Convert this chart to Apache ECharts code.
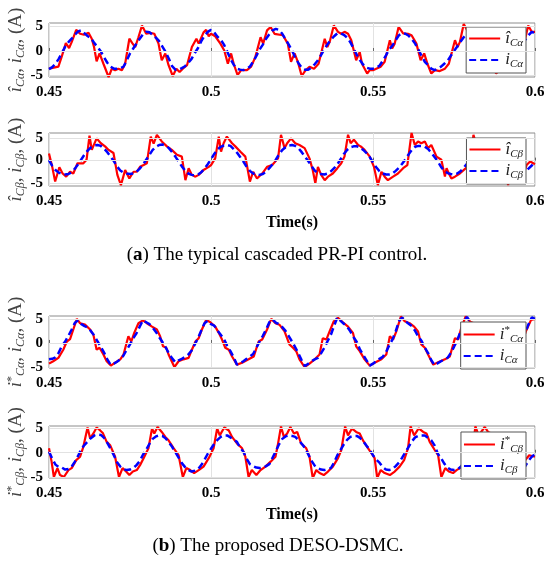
<!DOCTYPE html>
<html><head><meta charset="utf-8">
<script src="https://cdn.jsdelivr.net/npm/echarts@6/dist/echarts.min.js"></script>
<style>html,body{margin:0;padding:0;background:#fff}#c{width:550px;height:562px}</style>
</head><body><div id="c"></div>
<script>
// ---- sampling of the measured (blue) currents ----
const T0 = 0.45, DT = 0.001;
const xTicks = [0.45, 0.5, 0.55, 0.6];
const yTicks = [-5, 0, 5];

// (a) PR-PI, alpha: estimated current (red) vertices
const p1HatT = [0.4500,0.4529,0.4539,0.4552,0.4562,0.4570,0.4584,0.4596,0.4608,0.4622,0.4632,0.4639,0.4647,0.4656,0.4668,0.4684,0.4694,0.4704,0.4714,0.4725,0.4735,0.4748,0.4757,0.4766,0.4776,0.4787,0.4800,0.4812,0.4825,0.4838,0.4848,0.4859,0.4869,0.4882,0.4893,0.4903,0.4913,0.4926,0.4941,0.4955,0.4962,0.4977,0.4985,0.4993,0.5000,0.5013,0.5029,0.5041,0.5052,0.5062,0.5070,0.5082,0.5093,0.5111,0.5124,0.5137,0.5153,0.5161,0.5173,0.5184,0.5196,0.5222,0.5237,0.5247,0.5258,0.5268,0.5280,0.5291,0.5304,0.5318,0.5332,0.5351,0.5359,0.5366,0.5379,0.5392,0.5402,0.5412,0.5423,0.5433,0.5448,0.5459,0.5466,0.5482,0.5490,0.5500,0.5510,0.5524,0.5536,0.5552,0.5559,0.5567,0.5579,0.5593,0.5608,0.5619,0.5634,0.5647,0.5658,0.5668,0.5680,0.5691,0.5706,0.5722,0.5734,0.5753,0.5761,0.5768,0.5780,0.5793,0.5803,0.5815,0.5825,0.5835,0.5850,0.5860,0.5867,0.5880,0.5891,0.5905,0.5920,0.5935,0.5952,0.5960,0.5967,0.5979,0.5990,0.6000];
const p1HatV = [-3.6,-3.2,-1.2,1.6,0.6,1.8,4.3,3.5,3.3,3.7,2.5,0.8,-2.1,-0.5,-2.6,-5.3,-3.6,-3.9,-3.6,-3.9,-2.6,2.5,1.6,0.8,2.8,5.2,3.5,3.7,3.5,1.5,-1.9,-0.5,-2.9,-5.1,-3.6,-4.3,-3.6,-2.9,0.8,2.5,1.5,3.8,4.3,3.0,3.5,3.0,1.5,0.1,-2.6,-0.5,-2.6,-4.9,-3.9,-3.9,-3.2,-1.2,2.8,1.5,4.2,4.9,3.5,3.2,1.5,-2.2,-0.5,-2.2,-5.1,-4.0,-3.2,-3.6,-2.6,2.5,0.8,1.8,5.2,3.9,3.5,3.9,3.5,2.2,-1.9,-0.2,-2.6,-4.6,-3.9,-3.9,-3.6,-3.2,-2.2,2.2,0.5,1.5,4.9,3.6,3.5,3.2,1.5,-1.9,-0.5,-2.6,-4.6,-3.9,-4.1,-3.6,-2.6,2.2,0.8,1.8,5.5,3.9,3.5,3.8,3.4,2.2,-1.9,-0.4,-2.6,-4.6,-3.9,-3.9,-3.4,-2.4,2.3,0.8,1.6,5.2,3.9,3.9];
const p1Meas = [-3.7,-3.3,-2.6,-1.6,-0.4,0.9,1.8,2.5,3.3,4.0,4.2,3.6,3.0,2.6,1.6,0.8,-0.1,-1.3,-2.4,-3.2,-3.6,
 -3.6,-3.5,-3.2,-1.9,-0.5,0.5,1.5,2.5,3.4,3.9,3.8,3.3,2.7,2.0,0.9,-0.2,-1.6,-3.1,-3.8,-3.8,
 -3.5,-3.1,-2.4,-1.6,-0.4,0.6,2.0,3.1,3.9,4.3,3.8,2.9,2.3,1.3,-0.1,-1.6,-2.8,-3.6,-3.8,-3.9,
 -3.6,-3.2,-2.2,-1.0,0.3,1.3,2.5,3.4,4.2,4.5,4.3,3.5,2.4,1.3,0.1,-1.3,-2.5,-3.4,-3.8,-3.8,
 -3.4,-2.7,-1.9,-0.8,0.4,1.4,2.3,3.0,3.6,3.6,3.3,2.7,1.8,0.5,-0.8,-1.9,-2.8,-3.4,-3.6,-3.6,
 -3.4,-3.0,-2.0,-0.9,0.3,1.1,2.2,3.2,3.6,3.5,3.1,2.4,1.5,0.3,-1.0,-2.2,-2.9,-3.6,-3.9,-3.6,
 -3.2,-2.6,-2.0,-1.0,0.0,0.9,1.9,2.8,3.5,3.9,3.7,3.1,2.3,1.3,0.1,-1.2,-2.4,-3.3,-3.8,-3.8,
 -3.4,-2.8,-2.0,-0.9,0.3,1.3,2.3,3.2,3.9,3.6];

// (a) PR-PI, beta
const p2HatT = [0.4500,0.4510,0.4519,0.4532,0.4542,0.4553,0.4565,0.4575,0.4588,0.4606,0.4616,0.4625,0.4632,0.4647,0.4660,0.4673,0.4684,0.4699,0.4711,0.4722,0.4735,0.4748,0.4761,0.4771,0.4781,0.4792,0.4802,0.4814,0.4823,0.4833,0.4848,0.4864,0.4879,0.4895,0.4910,0.4921,0.4931,0.4941,0.4952,0.4962,0.4977,0.4993,0.5000,0.5013,0.5024,0.5031,0.5039,0.5049,0.5065,0.5075,0.5091,0.5106,0.5120,0.5130,0.5142,0.5158,0.5173,0.5189,0.5207,0.5216,0.5227,0.5235,0.5247,0.5260,0.5273,0.5289,0.5304,0.5314,0.5322,0.5330,0.5340,0.5351,0.5361,0.5376,0.5390,0.5402,0.5412,0.5423,0.5431,0.5441,0.5454,0.5462,0.5474,0.5490,0.5503,0.5515,0.5526,0.5536,0.5546,0.5562,0.5577,0.5593,0.5606,0.5619,0.5629,0.5639,0.5649,0.5660,0.5670,0.5680,0.5696,0.5711,0.5722,0.5727,0.5734,0.5742,0.5753,0.5768,0.5785,0.5800,0.5810,0.5818,0.5830,0.5845,0.5860,0.5875,0.5890,0.5905,0.5917,0.5925,0.5935,0.5953,0.5965,0.5974,0.5985,0.6000];
const p2HatV = [1.6,-1.4,-4.7,-1.5,-2.9,-3.6,-2.5,-2.9,-0.6,-0.6,0.2,5.6,2.4,5.0,3.9,3.2,2.4,1.7,-3.2,-5.5,-2.1,-4.0,-2.5,-2.5,-1.4,-1.0,-0.6,5.4,3.8,5.8,4.3,3.2,2.4,1.3,0.9,-4.4,-1.7,-3.2,-3.6,-3.2,-2.1,-1.4,-1.0,0.5,5.4,2.0,3.9,5.4,3.9,3.2,2.0,0.9,-4.7,-2.5,-4.0,-2.9,-1.4,-1.0,0.5,5.8,2.8,3.9,5.0,3.9,3.5,2.8,0.5,-2.1,-5.1,-1.4,-3.2,-4.4,-3.6,-2.9,-1.7,-0.6,0.9,5.8,3.9,4.7,3.5,3.2,2.4,0.9,-1.4,-5.5,-2.5,-3.6,-4.4,-3.6,-2.9,-1.7,-1.0,6.2,3.5,4.3,3.9,4.3,2.8,3.5,0.9,0.2,-3.6,-1.7,-2.9,-4.0,-3.6,-2.9,-1.8,-0.8,5.8,3.8,4.5,3.6,3.0,2.2,0.9,-1.5,-5.5,-2.2,-3.4,-4.7,-3.0,-1.0,-0.2,-0.8];
const p2Meas = [0.1,-1.2,-2.1,-2.7,-3.0,-3.1,-3.0,-2.6,-1.8,-0.8,0.3,1.4,2.3,3.0,3.4,3.5,3.3,2.7,1.9,0.9,-0.1,
 -1.3,-2.2,-2.7,-2.9,-3.0,-2.9,-2.5,-1.8,-0.9,0.2,1.3,2.4,3.1,3.5,3.6,3.4,2.8,1.9,0.9,-0.2,
 -1.3,-2.2,-2.9,-3.2,-3.3,-3.1,-2.6,-1.8,-0.8,0.3,1.5,2.5,3.1,3.4,3.5,3.3,2.6,1.8,0.8,-0.2,
 -1.4,-2.3,-2.9,-3.1,-3.2,-3.0,-2.5,-1.7,-0.8,0.2,1.4,2.4,3.0,3.4,3.5,3.3,2.8,1.9,0.9,-0.1,
 -1.2,-2.2,-2.8,-3.0,-3.1,-2.9,-2.4,-1.7,-0.8,0.3,1.5,2.4,3.0,3.2,3.2,3.0,2.4,1.7,0.8,-0.4,
 -1.5,-2.4,-2.9,-3.1,-3.1,-2.9,-2.3,-1.6,-0.7,0.3,1.4,2.4,3.1,3.3,3.3,3.1,2.6,1.8,0.8,-0.2,
 -1.4,-2.3,-2.8,-3.0,-3.1,-2.9,-2.4,-1.6,-0.7,0.3,1.4,2.4,3.1,3.4,3.5,3.2,2.6,1.8,0.8,-0.2,
 -1.3,-2.2,-2.8,-3.1,-3.1,-2.9,-2.5,-1.8,-1.1,-0.4];

// (b) DESO-DSMC, alpha: reference current (red) vertices
const p3RefT = [0.4500,0.4513,0.4529,0.4544,0.4555,0.4565,0.4575,0.4586,0.4596,0.4611,0.4627,0.4637,0.4647,0.4656,0.4668,0.4678,0.4691,0.4704,0.4720,0.4730,0.4745,0.4754,0.4763,0.4776,0.4790,0.4802,0.4818,0.4833,0.4843,0.4852,0.4862,0.4869,0.4887,0.4900,0.4915,0.4931,0.4941,0.4952,0.4962,0.4972,0.4985,0.4998,0.5013,0.5024,0.5034,0.5044,0.5055,0.5065,0.5080,0.5096,0.5116,0.5132,0.5147,0.5158,0.5173,0.5186,0.5199,0.5211,0.5227,0.5242,0.5253,0.5263,0.5273,0.5289,0.5304,0.5320,0.5335,0.5345,0.5356,0.5366,0.5379,0.5392,0.5407,0.5423,0.5438,0.5448,0.5459,0.5474,0.5490,0.5505,0.5526,0.5541,0.5552,0.5562,0.5572,0.5586,0.5598,0.5613,0.5627,0.5639,0.5649,0.5660,0.5670,0.5686,0.5701,0.5722,0.5737,0.5753,0.5763,0.5771,0.5786,0.5800,0.5815,0.5830,0.5843,0.5853,0.5863,0.5874,0.5888,0.5903,0.5923,0.5938,0.5953,0.5963,0.5973,0.5988,0.6000];
const p3RefV = [-4.3,-3.8,-3.1,-1.4,0.3,0.8,2.8,5.0,4.1,3.8,2.8,1.7,-1.4,-1.0,-2.4,-3.8,-4.7,-4.1,-3.4,-2.4,1.4,0.3,2.1,4.1,4.7,4.1,3.4,2.8,1.4,-0.7,-1.0,-2.4,-5.0,-3.8,-3.4,-3.1,-1.4,0.3,1.0,2.8,4.8,4.3,3.4,2.1,0.7,-1.0,-1.4,-2.8,-4.5,-4.1,-3.4,-2.8,0.3,0.7,2.8,5.0,4.1,3.8,2.4,-0.3,-1.0,-1.7,-3.4,-5.0,-4.3,-3.4,-2.4,1.0,0.7,2.4,4.5,5.2,4.3,3.4,2.1,-0.7,-1.7,-3.4,-4.7,-4.1,-3.4,-2.4,1.4,0.7,2.4,5.5,4.5,4.1,3.4,2.4,-0.3,-1.0,-2.4,-4.5,-4.0,-3.4,-2.8,1.0,0.7,2.8,5.5,4.4,4.0,3.3,2.2,-0.4,-1.2,-2.4,-4.9,-4.1,-3.4,-2.6,1.2,0.7,2.6,4.8,5.0];
const p3Meas = [-3.4,-3.3,-3.0,-2.0,-0.6,0.3,1.5,2.8,4.2,4.7,3.9,3.5,3.2,2.4,1.5,0.3,-0.8,-2.0,-3.4,-4.5,-4.3,
 -3.9,-3.4,-2.6,-1.4,-0.3,1.0,2.0,3.4,4.7,4.3,3.9,3.2,2.3,1.2,0.2,-0.9,-2.2,-3.2,-4.0,-3.6,
 -3.3,-2.9,-2.4,-1.6,-0.3,1.0,2.6,4.1,4.6,3.9,3.6,2.6,1.7,0.8,-0.6,-1.7,-3.0,-4.5,-4.2,-3.8,
 -3.3,-2.8,-2.3,-1.0,0.3,1.5,2.8,4.3,4.9,4.2,3.9,3.3,2.5,1.4,0.3,-0.9,-2.2,-3.6,-4.8,-4.3,
 -3.8,-3.4,-3.1,-2.1,-1.0,0.4,1.7,3.6,5.3,4.6,4.0,3.4,2.4,1.2,0.2,-1.4,-2.5,-3.6,-4.7,-4.3,
 -3.8,-3.3,-2.9,-1.9,-0.5,0.7,2.4,4.5,5.3,4.5,4.0,3.5,2.5,1.3,0.4,-1.0,-2.1,-3.6,-4.6,-4.2,
 -3.8,-3.4,-3.1,-2.1,-0.8,0.6,2.3,4.4,5.4,4.4,3.9,3.4,2.5,1.3,0.2,-1.1,-2.4,-3.8,-4.9,-4.3,
 -3.8,-3.4,-2.9,-2.0,-0.7,0.7,2.1,3.9,5.3,5.0];

// (b) DESO-DSMC, beta
const p4RefT = [0.4500,0.4508,0.4515,0.4526,0.4534,0.4546,0.4560,0.4570,0.4584,0.4596,0.4606,0.4619,0.4627,0.4637,0.4647,0.4658,0.4666,0.4678,0.4689,0.4704,0.4716,0.4727,0.4738,0.4748,0.4759,0.4771,0.4781,0.4792,0.4807,0.4818,0.4825,0.4835,0.4848,0.4859,0.4869,0.4885,0.4900,0.4913,0.4924,0.4936,0.4948,0.4962,0.4977,0.4993,0.5008,0.5019,0.5027,0.5041,0.5055,0.5065,0.5080,0.5096,0.5106,0.5116,0.5126,0.5140,0.5153,0.5168,0.5184,0.5199,0.5206,0.5216,0.5225,0.5235,0.5245,0.5256,0.5266,0.5278,0.5294,0.5304,0.5314,0.5325,0.5335,0.5348,0.5361,0.5376,0.5392,0.5402,0.5414,0.5423,0.5435,0.5448,0.5459,0.5469,0.5485,0.5495,0.5505,0.5513,0.5524,0.5536,0.5552,0.5567,0.5582,0.5596,0.5608,0.5616,0.5627,0.5641,0.5655,0.5665,0.5675,0.5691,0.5701,0.5711,0.5723,0.5734,0.5747,0.5758,0.5768,0.5782,0.5796,0.5808,0.5816,0.5826,0.5845,0.5855,0.5865,0.5875,0.5889,0.5899,0.5913,0.5925,0.5935,0.5948,0.5960,0.5970,0.5982,0.6000];
const p4RefV = [0.9,-1.8,-4.9,-3.1,-4.5,-4.9,-3.5,-3.1,-1.5,-0.8,1.2,5.1,2.9,3.9,5.1,4.5,4.0,2.2,1.5,-0.8,-4.9,-3.1,-3.8,-4.5,-3.8,-3.5,-2.5,-1.1,0.9,4.9,3.9,5.2,4.2,3.2,2.5,0.9,-0.5,-4.9,-3.1,-3.5,-4.1,-3.5,-2.8,-1.1,0.9,4.9,3.5,5.1,4.5,3.2,1.9,0.9,-0.8,-4.9,-3.5,-4.5,-3.5,-2.8,-1.8,-0.8,1.5,5.3,3.2,3.9,5.2,3.9,4.2,1.9,0.9,-0.8,-5.1,-3.5,-4.1,-4.5,-3.8,-2.8,-1.1,0.5,5.3,3.5,4.9,4.2,3.9,2.5,0.9,-0.1,-1.1,-5.1,-3.5,-4.1,-4.5,-3.8,-2.8,-1.5,0.9,5.3,3.5,4.9,4.2,3.9,2.2,0.5,-0.5,-4.9,-3.1,-3.8,-4.1,-3.5,-3.1,-2.4,-1.5,0.9,5.3,3.5,5.2,4.2,3.9,2.2,0.5,-0.5,-4.9,-3.1,-3.8,-5.1,-3.5,-1.5,-0.5,-0.8];
const p4Meas = [0.2,-1.2,-2.4,-2.9,-3.0,-3.4,-3.3,-2.8,-1.8,-0.6,0.8,1.6,2.3,3.0,3.5,3.7,3.6,3.0,2.0,0.8,-0.5,
 -1.9,-2.8,-3.3,-3.5,-3.4,-3.1,-2.5,-1.7,-0.4,0.6,1.8,2.8,3.3,3.5,3.4,2.9,2.1,1.2,0.1,-1.0,
 -2.1,-2.9,-3.5,-3.8,-3.6,-3.3,-2.5,-1.4,-0.2,0.8,1.8,2.6,3.2,3.5,3.5,3.1,2.6,2.2,1.0,0.2,
 -1.2,-2.3,-2.7,-3.0,-3.1,-3.0,-2.7,-2.3,-1.0,0.3,1.7,2.8,3.3,3.5,3.4,3.2,2.6,1.8,1.0,-0.3,
 -1.6,-2.6,-3.1,-3.4,-3.5,-3.3,-3.1,-2.0,-0.5,0.6,1.7,2.6,3.2,3.4,3.4,3.0,2.3,1.4,0.6,-0.5,
 -1.4,-2.0,-2.9,-3.4,-3.5,-3.3,-2.7,-2.0,-1.0,0.1,1.2,2.3,3.1,3.4,3.5,3.5,3.0,2.5,1.5,-0.2,
 -1.1,-2.2,-3.0,-3.4,-3.5,-3.4,-2.9,-2.1,-1.0,0.2,1.4,2.4,3.1,3.4,3.5,3.3,2.7,1.8,0.8,-0.3,
 -1.5,-2.5,-3.1,-3.4,-3.5,-3.3,-2.7,-1.6,-0.8,-0.3];

const redSets = [[p1HatT,p1HatV],[p2HatT,p2HatV],[p3RefT,p3RefV],[p4RefT,p4RefV]];
const blueSets = [p1Meas, p2Meas, p3Meas, p4Meas];
const redNames = ['hatA','hatB','refA','refB'];
const blueNames = ['measA','measB','measA2','measB2'];
const legendText = {
  hatA:'{i|î}{s|Cα}', measA:'{i|i}{s|Cα}',
  hatB:'{i|î}{s|Cβ}', measB:'{i|i}{s|Cβ}',
  refA:'{i|i}{p|*}{s|Cα}', measA2:'{i|i}{s|Cα}',
  refB:'{i|i}{p|*}{s|Cβ}', measB2:'{i|i}{s|Cβ}'
};
const yNames = [
  '{i|î}{s|Cα}{n|, }{i|i}{s|Cα}{n|, (A)}',
  '{i|î}{s|Cβ}{n|, }{i|i}{s|Cβ}{n|, (A)}',
  '{i|i}{p|*}{s|Cα}{n|, }{i|i}{s|Cα}{n|, (A)}',
  '{i|i}{p|*}{s|Cβ}{n|, }{i|i}{s|Cβ}{n|, (A)}'
];

const serif = 'Liberation Serif';
const gridPos = [{top:23,height:54},{top:133,height:53},{top:316,height:52},{top:426,height:52}];
const yRanges = [[-5.3,5.7],[-5.7,6.2],[-5.2,5.6],[-5.1,5.4]];
const legendTops = [27,138,322,432];

function richSet(color, big, small){
  return {
    i:{fontFamily:serif,fontStyle:'italic',fontSize:big,color:color},
    s:{fontFamily:serif,fontStyle:'italic',fontSize:small,color:color,padding:[Math.round(small*0.8),0,0,0]},
    p:{fontFamily:serif,fontSize:small,color:color,padding:[0,0,Math.round(small*0.7),0]},
    n:{fontFamily:serif,fontSize:big,color:color}
  };
}

const grid = gridPos.map(p => ({left:49, right:15, top:p.top, height:p.height, show:true,
  borderColor:'#8c8c8c', borderWidth:1, containLabel:false, outerBoundsMode:'none'}));
const xAxis = gridPos.map((p,g) => ({
  gridIndex:g, type:'value', min:0.45, max:0.6, interval:0.05,
  axisLine:{show:false},
  axisTick:{show:true, inside:true, length:3, lineStyle:{color:'#666'}},
  axisLabel:{fontFamily:serif, fontWeight:'bold', fontSize:15, color:'#000', margin:8, showMinLabel:true, showMaxLabel:true,
    formatter: v => String(Math.round(v*100)/100)},
  splitLine:{show:true, lineStyle:{color:'#e2e2e2', width:1}},
  name: (g % 2 === 1) ? 'Time(s)' : '', nameLocation:'middle', nameGap:29, nameMoveOverlap:false,
  nameTextStyle:{fontFamily:serif, fontWeight:'bold', fontSize:16, color:'#000'}
}));
const yAxis = gridPos.map((p,g) => ({
  gridIndex:g, type:'value', min:yRanges[g][0], max:yRanges[g][1],
  axisLine:{show:false}, splitLine:{show:false},
  axisTick:{show:true, inside:true, length:3, customValues:yTicks, lineStyle:{color:'#666'}},
  axisLabel:{customValues:yTicks, fontFamily:serif, fontWeight:'bold', fontSize:15, color:'#000', margin:6},
  name: yNames[g], nameLocation:'middle', nameRotate:90, nameGap:22, nameMoveOverlap:false,
  nameTextStyle:{rich: richSet('#444', 19, 12)}
}));

const series = [];
for (let g = 0; g < 4; g++) {
  series.push({
    type:'line', name:'grid'+g, xAxisIndex:g, yAxisIndex:g, data:[], z:1, silent:true,
    markLine:{silent:true, symbol:'none', label:{show:false}, animation:false,
      lineStyle:{color:'#e2e2e2', width:1, type:'solid'},
      data: yTicks.map(v => ({yAxis:v}))}
  });
  const [rt, rv] = redSets[g];
  series.push({
    type:'line', name:redNames[g], xAxisIndex:g, yAxisIndex:g, z:2, silent:true,
    data: rt.map((t,i) => [t, rv[i]]),
    symbol:'none', showSymbol:false,
    lineStyle:{color:'#ff0000', width:2.2}, itemStyle:{color:'#ff0000'}
  });
  series.push({
    type:'line', name:blueNames[g], xAxisIndex:g, yAxisIndex:g, z:3, silent:true,
    data: blueSets[g].map((v,i) => [+(T0 + i*DT).toFixed(3), v]),
    symbol:'none', showSymbol:false,
    lineStyle:{color:'#0000ff', width:2.5, type:[7,4]}, itemStyle:{color:'#0000ff'}
  });
}

const legend = legendTops.map((top,g) => ({
  data:[redNames[g], blueNames[g]], orient:'vertical', right:24, top:top,
  itemWidth:31, itemHeight:12, itemGap:3, padding:[3,3,3,2],
  backgroundColor:'#fff', borderColor:'#555', borderWidth:1, borderRadius:0,
  selectedMode:false, formatter: n => legendText[n],
  itemStyle:{opacity:0},
  textStyle:{rich: richSet('#222', 17, 11)}
}));

const capRich = {
  n:{fontFamily:serif, fontSize:19, fill:'#000'},
  b:{fontFamily:serif, fontSize:19, fontWeight:'bold', fill:'#000'}
};
const graphic = [
  {type:'text', x:277, y:255, style:{text:'{n|(}{b|a}{n|) The typical cascaded PR-PI control.}', rich:capRich, align:'center', verticalAlign:'middle'}},
  {type:'text', x:278, y:546, style:{text:'{n|(}{b|b}{n|) The proposed DESO-DSMC.}', rich:capRich, align:'center', verticalAlign:'middle'}}
];

const chart = echarts.init(document.getElementById('c'));
chart.setOption({animation:false, backgroundColor:'#fff', grid, xAxis, yAxis, series, legend, graphic});
</script></body></html>
